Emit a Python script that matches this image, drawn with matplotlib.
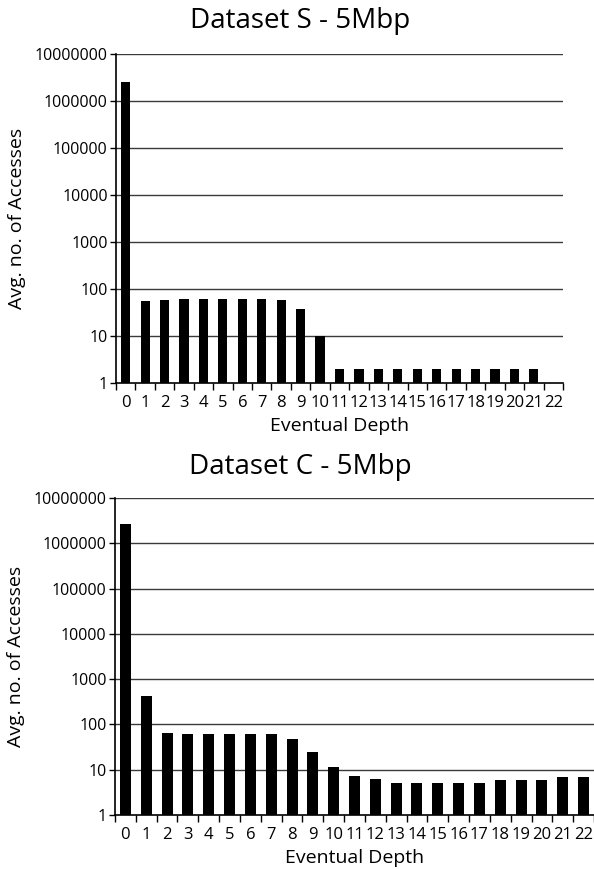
import numpy as np
import matplotlib.pyplot as plt
from matplotlib.ticker import FixedLocator, NullFormatter

plt.rcParams['font.family'] = ['Open Sans', 'DejaVu Sans']

depth = list(range(23))
depth_labels = [str(d) for d in depth]

# average number of accesses per eventual depth
accesses_s = [2500000, 56, 57, 61, 61, 61, 61, 61, 57, 37.5, 10,
              2, 2, 2, 2, 2, 2, 2, 2, 2, 2, 2, 1]
accesses_c = [2600000, 424, 63, 61, 61, 61, 61, 60, 48, 24.6, 11.3,
              7.1, 6.1, 5.1, 5.1, 5.1, 5.1, 5.1, 6, 6, 6, 7, 7]

y_ticks = [1, 10, 100, 1000, 10000, 100000, 1000000, 10000000]

fig = plt.figure(figsize=(5.94, 8.69), dpi=100)
ax1 = fig.add_axes([0.1953, 0.5593, 0.7525, 0.3786])
ax2 = fig.add_axes([0.1936, 0.0622, 0.8064, 0.3648])


def draw(ax, values, title, width, title_y):
    ax.set_yscale('log')
    ax.set_ylim(1, 1e7)
    ax.set_xlim(-0.5, 22.5)
    for t in y_ticks[1:]:
        ax.axhline(t, color='#3a3a3a', lw=1.0, zorder=1)
    ax.bar(depth, values, width=width, color='black', zorder=2)
    ax.set_yticks(y_ticks)
    ax.set_yticklabels([str(t) for t in y_ticks])
    ax.yaxis.set_minor_locator(FixedLocator([]))
    ax.set_xticks(depth)
    ax.set_xticklabels(depth_labels)
    ax.xaxis.set_minor_locator(FixedLocator(np.arange(-0.5, 23, 1)))
    ax.xaxis.set_minor_formatter(NullFormatter())
    ax.tick_params(axis='x', which='major', length=0, pad=9, labelsize=12)
    ax.tick_params(axis='x', which='minor', length=5, width=1)
    ax.tick_params(axis='y', which='major', length=4, width=1, labelsize=11.5, pad=2)
    for side in ('top', 'right'):
        ax.spines[side].set_visible(False)
    for side in ('left', 'bottom'):
        ax.spines[side].set_linewidth(1.2)
        ax.spines[side].set_zorder(3)
    ax.set_xlabel('Eventual Depth', fontsize=14, labelpad=4)
    ax.set_ylabel('Avg. no. of Accesses', fontsize=14, labelpad=6)
    fig.text(0.505, title_y, title, fontsize=20, ha='center', va='center')


draw(ax1, accesses_s, 'Dataset S - 5Mbp', 0.47, 0.976)
draw(ax2, accesses_c, 'Dataset C - 5Mbp', 0.53, 0.463)

fig.savefig('out.png', dpi=100)
